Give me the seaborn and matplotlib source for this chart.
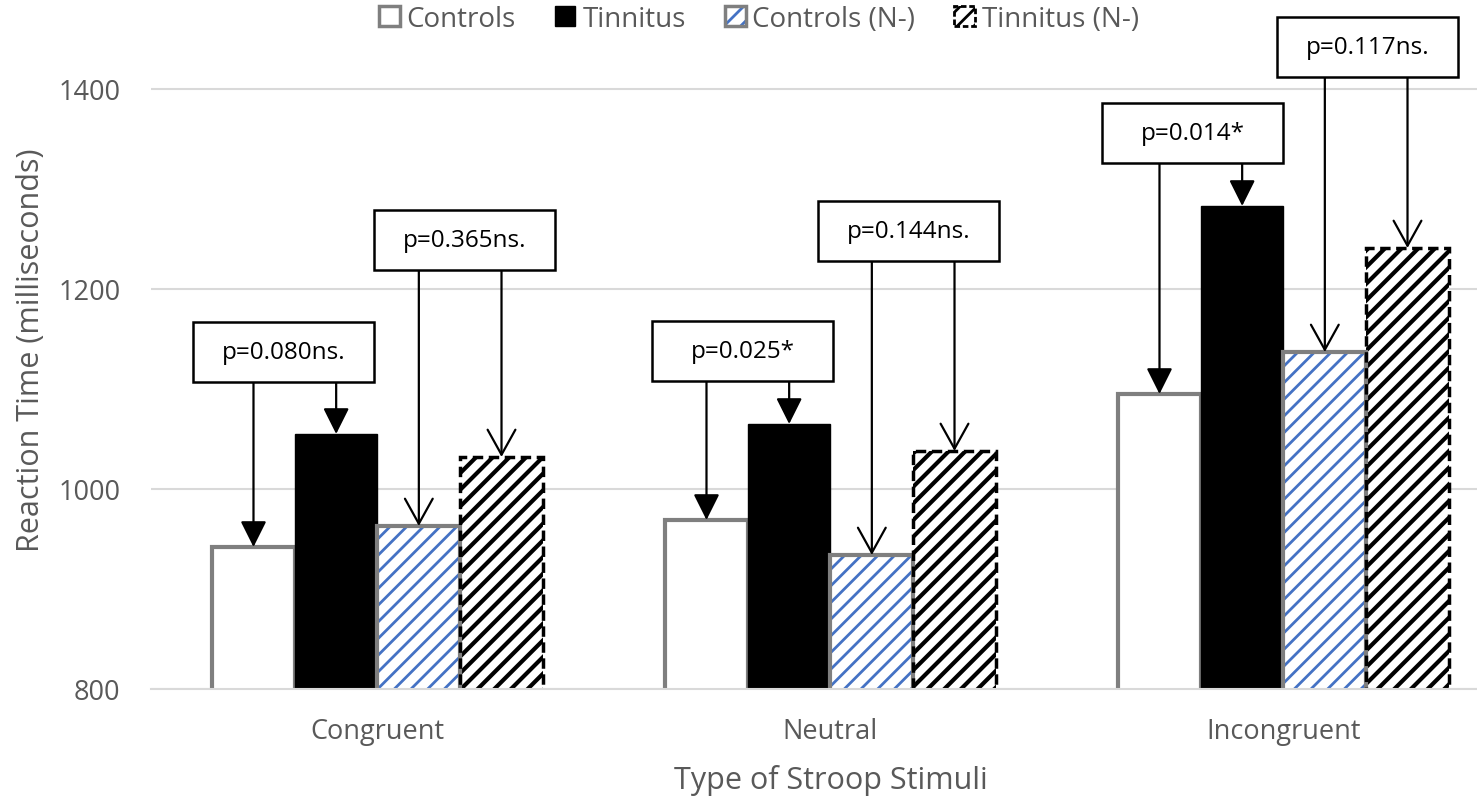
import matplotlib
matplotlib.use('Agg')
import matplotlib.pyplot as plt
import matplotlib.patches as mpatches
import seaborn as sns
import pandas as pd

# ---------------- data ----------------
stimuli = ['Congruent', 'Neutral', 'Incongruent']
groups = ['Controls', 'Tinnitus', 'Controls (N-)', 'Tinnitus (N-)']
controls = [942, 969, 1095]
tinnitus = [1055, 1065, 1283]
controls_n = [963, 934, 1137]
tinnitus_n = [1032, 1038, 1241]
yticks = [800, 1000, 1200, 1400]

p_labels = ['p=0.080ns.', 'p=0.365ns.', 'p=0.025*', 'p=0.144ns.', 'p=0.014*', 'p=0.117ns.']
p_stim = [0, 0, 1, 1, 2, 2]
p_pair = [(0, 1), (2, 3), (0, 1), (2, 3), (0, 1), (2, 3)]

# annotation layout
box_offset = [-0.207, 0.192, -0.194, 0.173, -0.201, 0.186]
box_bottom = [1107, 1219, 1108, 1228, 1326, 1412]
box_w = 0.40
box_h = 60

# ---------------- style ----------------
sns.set_style('white')
plt.rcParams['font.family'] = ['Open Sans', 'DejaVu Sans']
plt.rcParams['hatch.linewidth'] = 2.0

GRAY_TXT = '#595959'
EDGE_GRAY = '#7f7f7f'
BLUE = '#4472c4'

values = [controls, tinnitus, controls_n, tinnitus_n]
rows = []
for g, vals in zip(groups, values):
    for s, v in zip(stimuli, vals):
        rows.append({'Stimulus': s, 'Group': g, 'RT': v})
df = pd.DataFrame(rows)

fig = plt.figure(figsize=(14.77, 8.12), dpi=100)
ax = fig.add_axes([151 / 1477, 122 / 812, 1359 / 1477, 680 / 812])

sns.barplot(data=df, x='Stimulus', y='RT', hue='Group', order=stimuli,
            hue_order=groups, width=0.73, gap=0, errorbar=None,
            palette=['white', 'black', 'white', 'white'], saturation=1,
            legend=False, ax=ax)

c0, c1, c2, c3 = ax.containers[:4]
for p in c0:
    p.set_facecolor('white'); p.set_edgecolor(EDGE_GRAY); p.set_linewidth(3)
for p in c1:
    p.set_facecolor('black'); p.set_edgecolor('black'); p.set_linewidth(1)
for p in c2:
    p.set_facecolor('white'); p.set_edgecolor(BLUE); p.set_hatch('//'); p.set_linewidth(0)
for p in c3:
    p.set_facecolor('white'); p.set_edgecolor('black'); p.set_hatch('//'); p.set_linewidth(0)
    if hasattr(p, 'set_hatch_linewidth'):
        p.set_hatch_linewidth(3.0)
for p in c2:
    ax.add_patch(mpatches.Rectangle((p.get_x(), p.get_y()), p.get_width(), p.get_height(),
                                    fill=False, edgecolor=EDGE_GRAY, linewidth=3))
for p in c3:
    ax.add_patch(mpatches.Rectangle((p.get_x(), p.get_y()), p.get_width(), p.get_height(),
                                    fill=False, edgecolor='black', linewidth=2.5,
                                    linestyle=(0, (3, 1.6))))

ax.set_xlim(-0.5, 2.5)
ax.set_ylim(800, 1480)
ax.set_yticks(yticks)
ax.yaxis.grid(True, color='#d9d9d9', linewidth=1.5)
ax.set_axisbelow(True)
for sp in ['top', 'right', 'left']:
    ax.spines[sp].set_visible(False)
ax.spines['bottom'].set_color('#d9d9d9')
ax.spines['bottom'].set_linewidth(1.5)
ax.tick_params(axis='both', length=0, labelsize=19.5, labelcolor=GRAY_TXT)
ax.tick_params(axis='y', pad=22)
ax.tick_params(axis='x', pad=20)
ax.set_xlabel('Type of Stroop Stimuli', fontsize=22, color=GRAY_TXT, labelpad=14)
ax.set_ylabel('Reaction Time (milliseconds)', fontsize=22, color=GRAY_TXT, labelpad=9)

# annotations
filled = '-|>,head_length=1.6,head_width=0.8'
openh = '->,head_length=1.8,head_width=1.0'
for i, lab in enumerate(p_labels):
    s = p_stim[i]
    style = filled if p_pair[i][0] == 0 else openh
    for j in p_pair[i]:
        bar = ax.containers[j][s]
        xc = bar.get_x() + bar.get_width() / 2
        top = bar.get_height()
        ax.annotate('', xy=(xc, top), xytext=(xc, box_bottom[i]),
                    arrowprops=dict(arrowstyle=style, color='black', lw=1.6,
                                    shrinkA=0, shrinkB=0, mutation_scale=10),
                    annotation_clip=False, zorder=4)
    cx = s + box_offset[i]
    ax.add_patch(mpatches.Rectangle((cx - box_w / 2, box_bottom[i]), box_w, box_h,
                                    facecolor='white', edgecolor='black', linewidth=1.8,
                                    clip_on=False, zorder=5))
    ax.text(cx, box_bottom[i] + box_h / 2, lab, ha='center', va='center',
            fontsize=17.5, color='black', zorder=6)

# legend
h0 = mpatches.Patch(facecolor='white', edgecolor=EDGE_GRAY, linewidth=2.5)
h1 = mpatches.Patch(facecolor='black', edgecolor='black')
h2 = (mpatches.Patch(facecolor='white', edgecolor=BLUE, hatch='//', linewidth=0),
      mpatches.Patch(fill=False, edgecolor=EDGE_GRAY, linewidth=2.5))
h3 = (mpatches.Patch(facecolor='white', edgecolor='black', hatch='//', linewidth=0),
      mpatches.Patch(fill=False, edgecolor='black', linewidth=2, linestyle=(0, (2, 1))))
fig.legend([h0, h1, h2, h3], groups, loc='center',
           bbox_to_anchor=(759 / 1477, 1 - 20 / 812), ncol=4, frameon=False,
           fontsize=20, handlelength=0.75, handleheight=0.75, handletextpad=0.25,
           columnspacing=1.4, labelcolor=GRAY_TXT)

fig.savefig('out.png', dpi=100)
